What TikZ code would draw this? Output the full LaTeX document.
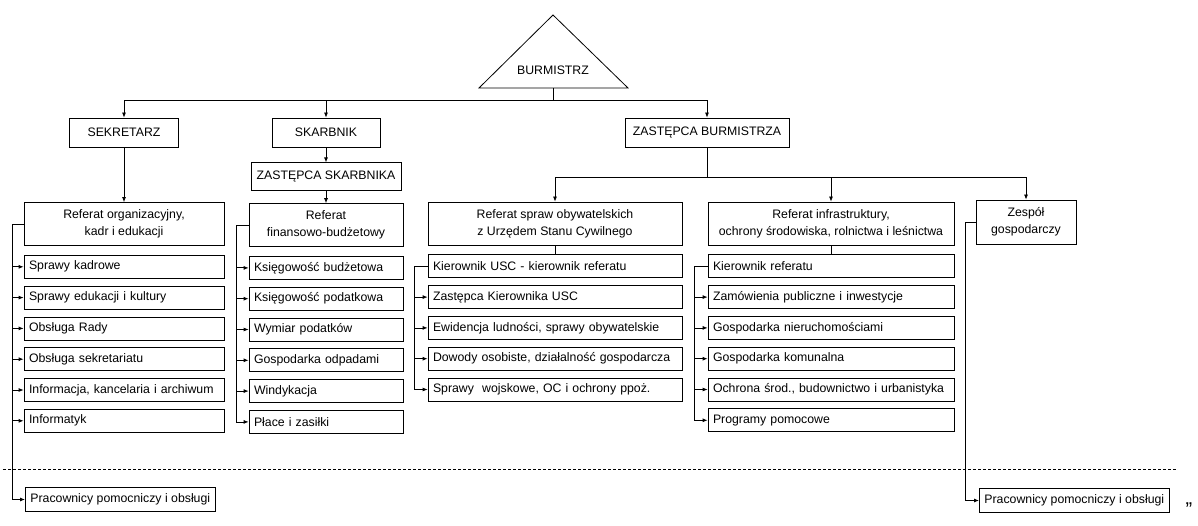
\documentclass[tikz,border=0pt]{standalone}
\usepackage{fontspec}
\setmainfont{Liberation Sans}
\usetikzlibrary{arrows.meta,positioning}
\tikzset{
    box/.style={rectangle,draw,inner sep=0pt,align=center},
    item/.style={rectangle,draw,inner xsep=5pt,inner ysep=0pt,minimum height=23pt,text width=#1,align=left},
    feed/.style={-{Latex[length=5pt,width=4pt]}},
    post/.style={{Latex[length=5pt,width=4pt]}-}
}

\begin{document}
\begin{tikzpicture}[x=1pt,y=-1pt,line width=0.8pt,node distance=7pt,font=\fontsize{12.3}{17}\selectfont]

                \useasboundingbox (0,0) rectangle (1198,526);

                \coordinate (burm apex) at (553,15);
                \coordinate (burm base) at (553,88);
                \draw (burm apex) -- ++(-74,73) -- ++(149,0) -- cycle;
                \node (burm) at (553,70) {BURMISTRZ};

                \node[box,minimum width=109pt,minimum height=29pt] (sek) at (124,132.5) {SEKRETARZ};
                \node[box,minimum width=108pt,minimum height=29pt] (skarb) at (326,132.5) {SKARBNIK};
                \node[box,minimum width=164pt,minimum height=29pt] (zb) at (707,132.5) {ZASTĘPCA BURMISTRZA};
                \node[box,minimum width=150pt,minimum height=28pt] (zast skarb) [below=15pt of skarb] {ZASTĘPCA SKARBNIKA};

                \node[box,minimum width=200pt,minimum height=43pt] (ref org) at (124,224) {Referat organizacyjny,\\ kadr i edukacji};
                \node[box,minimum width=154pt,minimum height=43pt] (ref fin) [below=12pt of zast skarb] {Referat\\ finansowo-budżetowy};
                \node[box,minimum width=254pt,minimum height=43pt] (ref usc) at (555,223.5) {Referat spraw obywatelskich\\ z Urzędem Stanu Cywilnego};
                \node[box,minimum width=246pt,minimum height=43pt] (ref inf) at (831,223.5) {Referat infrastruktury,\\ ochrony środowiska, rolnictwa i leśnictwa};
                \node[box,minimum width=100pt,minimum height=44pt] (zesp) at (1026,222) {Zespół\\ gospodarczy};

                \coordinate (top bus) at (553,100);
                \coordinate (zb bus) at (707,177);
                \coordinate (org bus) at (12,0);
                \coordinate (fin bus) at (236,0);
                \coordinate (usc bus) at (414,0);
                \coordinate (inf bus) at (694,0);
                \coordinate (zesp bus) at (965,0);

                \draw (burm base) -- (top bus);
                \draw[feed] (top bus) -| (sek);
                \draw[feed] (top bus) -| (skarb);
                \draw[feed] (top bus) -| (zb);
                \draw[feed] (sek) -- (ref org);
                \draw[feed] (skarb) -- (zast skarb);
                \draw[feed] (zast skarb) -- (ref fin);
                \draw (zb) -- (zb bus);
                \draw[feed] (zb bus) -| (ref usc);
                \draw[feed] (zb bus) -| (ref inf);
                \draw[feed] (zb bus) -| (zesp);

                \node[item=190pt] (org 1) [below=9pt of ref org] {Sprawy kadrowe}
                    edge[post] (org 1.west -| org bus);
                \node[item=190pt] (org 2) [below=of org 1] {Sprawy edukacji i kultury}
                    edge[post] (org 2.west -| org bus);
                \node[item=190pt] (org 3) [below=of org 2] {Obsługa Rady}
                    edge[post] (org 3.west -| org bus);
                \node[item=190pt] (org 4) [below=of org 3] {Obsługa sekretariatu}
                    edge[post] (org 4.west -| org bus);
                \node[item=190pt] (org 5) [below=of org 4] {Informacja, kancelaria i archiwum}
                    edge[post] (org 5.west -| org bus);
                \node[item=190pt] (org 6) [below=of org 5] {Informatyk}
                    edge[post] (org 6.west -| org bus);

                \node[item=144pt] (fin 1) [below=9pt of ref fin] {Księgowość budżetowa}
                    edge[post] (fin 1.west -| fin bus);
                \node[item=144pt] (fin 2) [below=of fin 1] {Księgowość podatkowa}
                    edge[post] (fin 2.west -| fin bus);
                \node[item=144pt] (fin 3) [below=of fin 2] {Wymiar podatków}
                    edge[post] (fin 3.west -| fin bus);
                \node[item=144pt] (fin 4) [below=of fin 3] {Gospodarka odpadami}
                    edge[post] (fin 4.west -| fin bus);
                \node[item=144pt] (fin 5) [below=of fin 4] {Windykacja}
                    edge[post] (fin 5.west -| fin bus);
                \node[item=144pt] (fin 6) [below=of fin 5] {Płace i zasiłki};

                \node[item=244pt] (usc 1) [below=9pt of ref usc] {Kierownik USC - kierownik referatu};
                \node[item=244pt] (usc 2) [below=of usc 1] {Zastępca Kierownika USC}
                    edge[post] (usc 2.west -| usc bus);
                \node[item=244pt] (usc 3) [below=of usc 2] {Ewidencja ludności, sprawy obywatelskie}
                    edge[post] (usc 3.west -| usc bus);
                \node[item=244pt] (usc 4) [below=of usc 3] {Dowody osobiste, działalność gospodarcza}
                    edge[post] (usc 4.west -| usc bus);
                \node[item=244pt] (usc 5) [below=of usc 4] {Sprawy~ wojskowe, OC i ochrony ppoż.};

                \node[item=236pt] (inf 1) [below=9pt of ref inf] {Kierownik referatu};
                \node[item=236pt] (inf 2) [below=of inf 1] {Zamówienia publiczne i inwestycje}
                    edge[post] (inf 2.west -| inf bus);
                \node[item=236pt] (inf 3) [below=of inf 2] {Gospodarka nieruchomościami}
                    edge[post] (inf 3.west -| inf bus);
                \node[item=236pt] (inf 4) [below=of inf 3] {Gospodarka komunalna}
                    edge[post] (inf 4.west -| inf bus);
                \node[item=236pt] (inf 5) [below=of inf 4] {Ochrona środ., budownictwo i urbanistyka}
                    edge[post] (inf 5.west -| inf bus);
                \node[item=236pt] (inf 6) [below=of inf 5] {Programy pomocowe};

                \node[box,inner xsep=5pt,minimum height=24pt,anchor=west] (pom 1) at (25,499.5) {Pracownicy pomocniczy i obsługi};
                \node[box,inner xsep=5pt,minimum height=24pt,anchor=west] (pom 2) at (979,500.5) {Pracownicy pomocniczy i obsługi};

                \draw[feed] (ref org.west) -| (org bus |- pom 1) -- (pom 1);
                \draw[feed] (ref fin.west) -| (fin bus |- fin 6) -- (fin 6);
                \draw (ref usc) -- (usc 1);
                \draw[feed] (usc 1.west) -| (usc bus |- usc 5) -- (usc 5);
                \draw (ref inf) -- (inf 1);
                \draw[feed] (inf 1.west) -| (inf bus |- inf 6) -- (inf 6);
                \draw[feed] (zesp.west) -| (zesp bus |- pom 2) -- (pom 2);

                \draw[dash pattern=on 3pt off 2pt] (3,469) -- (1176,469);

                \node[font=\fontsize{20}{20}\selectfont] (cudz) at (1189,510) {”};

            \end{tikzpicture}
\end{document}
